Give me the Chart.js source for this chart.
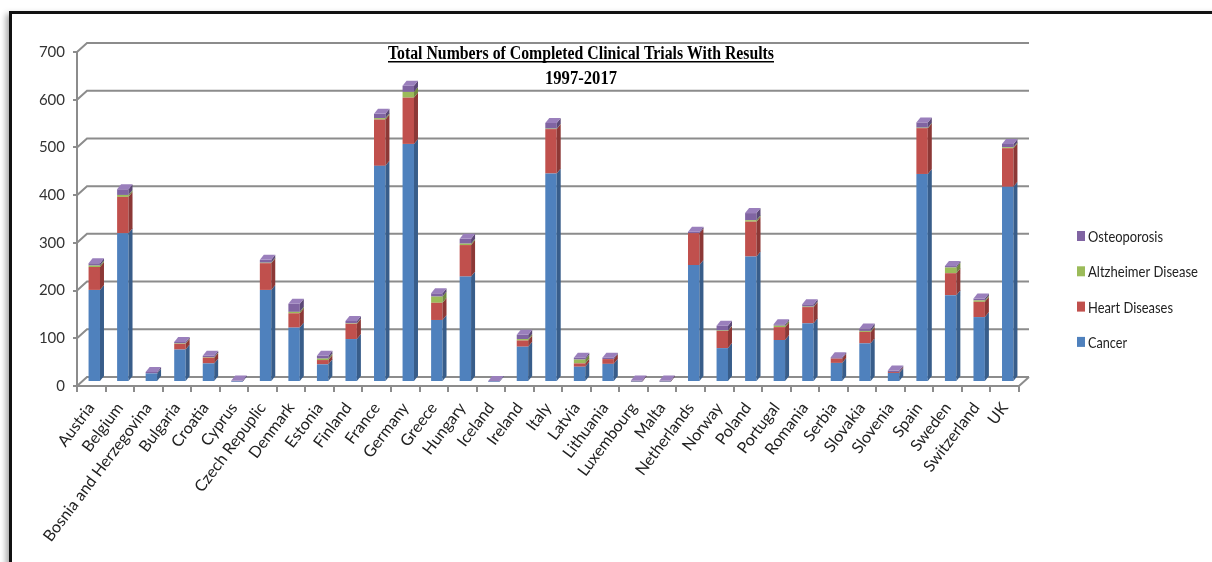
<!DOCTYPE html>
<html>
<head>
<meta charset="utf-8">
<script src="https://cdn.jsdelivr.net/npm/chart.js@4"></script>
<style>
  html, body { margin: 0; padding: 0; background: #fff; overflow: hidden; }
  #frame { position: absolute; left: 9px; top: 11px; width: 1300px; height: 700px; border: 3px solid #111; box-shadow: -3px 3px 6px rgba(0,0,0,.35); background: #fff; }
  #chart { position: absolute; left: 0; top: 0; }
</style>
</head>
<body>
<div id="frame"></div>
<canvas id="chart" width="1212" height="562"></canvas>
<script>
const countries = ['Austria', 'Belgium', 'Bosnia and Herzegovina', 'Bulgaria', 'Croatia', 'Cyprus',
  'Czech Repuplic', 'Denmark', 'Estonia', 'Finland', 'France', 'Germany', 'Greece', 'Hungary',
  'Iceland', 'Ireland', 'Italy', 'Latvia', 'Lithuania', 'Luxembourg', 'Malta', 'Netherlands',
  'Norway', 'Poland', 'Portugal', 'Romania', 'Serbia', 'Slovakia', 'Slovenia', 'Spain', 'Sweden',
  'Switzerland', 'UK'];
const cancer = [193, 312, 18, 68, 39, 1, 193, 114, 37, 90, 453, 499, 130, 221, 1, 74, 437, 32, 38, 1, 1, 245, 71, 263, 88, 123, 40, 81, 19, 436, 182, 136, 409];
const heart = [48, 76, 0, 12, 12, 0, 56, 30, 9, 32, 97, 97, 36, 66, 0, 13, 93, 7, 10, 1, 1, 67, 36, 73, 27, 34, 9, 24, 2, 96, 46, 32, 81];
const altzheimer = [3, 4, 0, 1, 1, 0, 1, 3, 3, 1, 3, 12, 13, 3, 0, 3, 1, 8, 0, 0, 0, 0, 1, 3, 3, 1, 0, 2, 0, 1, 12, 3, 2];
const osteo = [5, 12, 3, 3, 3, 2, 6, 17, 6, 5, 9, 13, 7, 10, 1, 9, 12, 4, 3, 1, 1, 3, 10, 15, 3, 5, 3, 5, 3, 11, 3, 4, 7];
const yTicks = [0, 100, 200, 300, 400, 500, 600, 700];

const titleLines = ['Total Numbers of Completed Clinical Trials With Results', '1997-2017'];
const FONT = 'Lato, "Open Sans", sans-serif';
const GRID = '#8c8c8c';

// depth of walls and bars (Excel style 3D look)
const DX = 10, DY = 9;
const BX = 4, BY = 5;

// draws text squeezed to a given width
function squeezed(ctx, text, x, y, width) {
  const w = ctx.measureText(text).width;
  ctx.save();
  ctx.translate(x, y);
  ctx.scale(Math.min(1, width / w), 1);
  ctx.fillText(text, 0, 0);
  ctx.restore();
}

const fake3d = {
  id: 'fake3d',
  beforeDatasetsDraw(chart) {
    const { ctx, chartArea: a, scales: { y } } = chart;
    ctx.save();
    ctx.strokeStyle = GRID;
    ctx.lineWidth = 2;
    yTicks.forEach(v => {
      const py = y.getPixelForValue(v);
      ctx.beginPath();
      ctx.moveTo(a.left, py);
      ctx.lineTo(a.left + DX, py - DY);
      ctx.lineTo(a.right + DX, py - DY);
      ctx.stroke();
    });
    ctx.beginPath();
    ctx.moveTo(a.right, a.bottom);
    ctx.lineTo(a.right + DX, a.bottom - DY);
    ctx.stroke();
    ctx.restore();
    // bars stand in the middle of the floor
    ctx.save();
    ctx.translate(3, -4);
  },
  afterDatasetsDraw(chart) {
    const ctx = chart.ctx;
    const sets = chart.data.datasets;
    sets.forEach((ds, i) => {
      chart.getDatasetMeta(i).data.forEach((bar, j) => {
        if (!(ds.data[j] > 0)) return;
        const p = bar.getProps(['x', 'y', 'base', 'width'], true);
        const r = p.x + p.width / 2;
        ctx.fillStyle = ds.sideColor;
        ctx.beginPath();
        ctx.moveTo(r, p.y);
        ctx.lineTo(r + BX, p.y - BY);
        ctx.lineTo(r + BX, p.base - BY);
        ctx.lineTo(r, p.base);
        ctx.closePath();
        ctx.fill();
      });
    });
    countries.forEach((c, j) => {
      let top = -1;
      for (let i = sets.length - 1; i >= 0; i--) {
        if (sets[i].data[j] > 0) { top = i; break; }
      }
      if (top < 0) return;
      const p = chart.getDatasetMeta(top).data[j].getProps(['x', 'y', 'width'], true);
      const l = p.x - p.width / 2, r = p.x + p.width / 2;
      ctx.fillStyle = sets[top].topColor;
      ctx.beginPath();
      ctx.moveTo(l, p.y);
      ctx.lineTo(l + BX, p.y - BY);
      ctx.lineTo(r + BX, p.y - BY);
      ctx.lineTo(r, p.y);
      ctx.closePath();
      ctx.fill();
    });
    ctx.restore();
  },
  afterDraw(chart) {
    const ctx = chart.ctx;
    ctx.save();
    // title
    ctx.fillStyle = '#000';
    ctx.textAlign = 'center';
    ctx.textBaseline = 'alphabetic';
    ctx.font = 'bold 18px "Liberation Serif", "DejaVu Serif", serif';
    squeezed(ctx, titleLines[0], 581, 59, 386);
    ctx.fillRect(581 - 193, 61, 386, 1.5);
    squeezed(ctx, titleLines[1], 581, 84, 72);
    // legend, widest entry first
    const items = chart.data.datasets.slice().reverse();
    const widths = [75, 110, 85, 39];
    ctx.textAlign = 'left';
    ctx.textBaseline = 'middle';
    ctx.font = '16px ' + FONT;
    items.forEach((ds, k) => {
      const cy = 236 + k * 35.3;
      ctx.fillStyle = ds.backgroundColor;
      ctx.fillRect(1077, cy - 5, 8, 10);
      ctx.fillStyle = '#222';
      squeezed(ctx, ds.label, 1088, cy + 1, widths[k]);
    });
    ctx.restore();
  }
};

new Chart(document.getElementById('chart'), {
  type: 'bar',
  data: {
    labels: countries,
    datasets: [
      { label: 'Cancer', data: cancer, backgroundColor: '#4F81BD', sideColor: '#385D8A', topColor: '#6E98CC' },
      { label: 'Heart Diseases', data: heart, backgroundColor: '#C0504D', sideColor: '#8C3836', topColor: '#D4716E' },
      { label: 'Altzheimer Disease', data: altzheimer, backgroundColor: '#9BBB59', sideColor: '#71893F', topColor: '#B2CF78' },
      { label: 'Osteoporosis', data: osteo, backgroundColor: '#8064A2', sideColor: '#5C4876', topColor: '#9A7FBC' }
    ]
  },
  options: {
    responsive: false,
    animation: false,
    layout: { padding: { left: 0, right: 193, top: 52, bottom: 0 } },
    datasets: { bar: { categoryPercentage: 1, barPercentage: 0.4, borderWidth: 0 } },
    plugins: { legend: { display: false }, title: { display: false }, tooltip: { enabled: false } },
    scales: {
      x: {
        stacked: true,
        grid: { display: true, drawOnChartArea: false, drawTicks: true, tickLength: 6, color: GRID, lineWidth: 2 },
        border: { display: true, color: GRID, width: 2 },
        ticks: { autoSkip: false, minRotation: 53, maxRotation: 53, padding: 7, color: '#222', font: { family: FONT, size: 16 } },
        afterFit(s) { s.height = 176; }
      },
      y: {
        stacked: true,
        min: 0,
        max: 700,
        grid: { display: true, drawOnChartArea: false, drawTicks: true, tickLength: 4, color: GRID, lineWidth: 2 },
        border: { display: true, color: GRID, width: 2 },
        ticks: { stepSize: 100, padding: 8, color: '#333', font: { family: FONT, size: 15 } },
        afterFit(s) { s.width = 77; }
      }
    }
  },
  plugins: [fake3d]
});
</script>
</body>
</html>
